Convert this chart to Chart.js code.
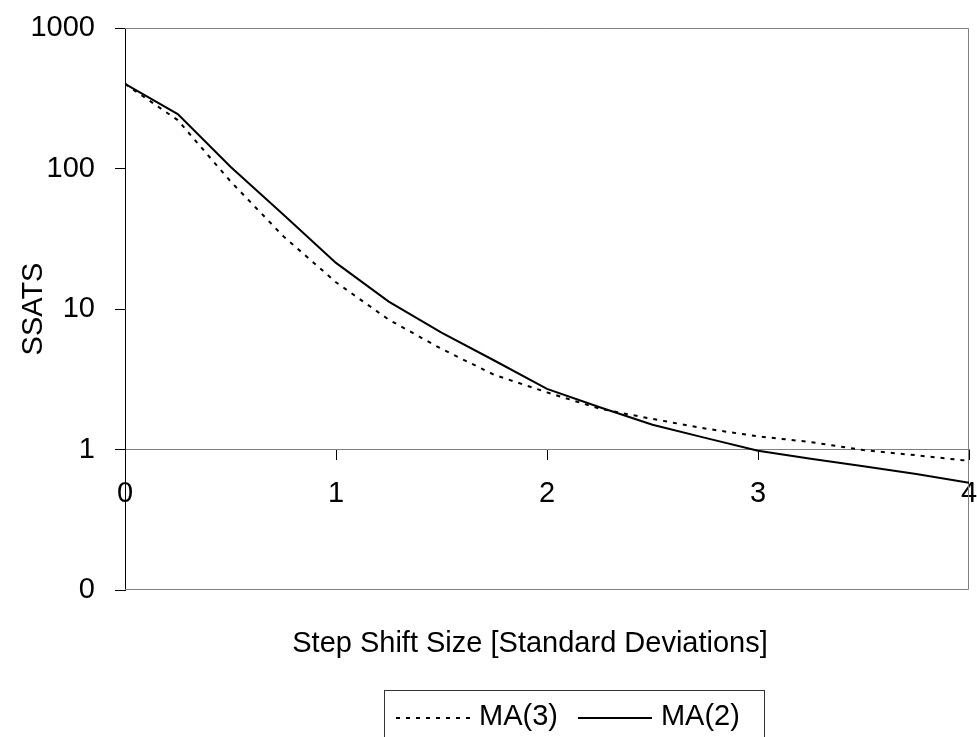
<!DOCTYPE html>
<html>
<head>
<meta charset="utf-8">
<title>SSATS vs step shift size</title>
<script src="https://cdn.jsdelivr.net/npm/chart.js@4/dist/chart.umd.min.js"></script>
<style>
    html, body { margin: 0; padding: 0; background: #fff; }
    #wrap { width: 977px; height: 737px; position: relative; }
</style>
</head>
<body>
<div id="wrap"><canvas id="ssats-chart"></canvas></div>
<script>
// Step shift sizes (standard deviations)
const shiftSizes = [0, 0.25, 0.5, 0.75, 1, 1.25, 1.5, 1.75, 2, 2.25, 2.5, 2.75, 3, 3.25, 3.5, 3.75, 4];

// SSATS per chart type
const ma3Values = [400, 221, 81, 33, 15.5, 8.4, 5.2, 3.4, 2.55, 1.95, 1.65, 1.41, 1.24, 1.13, 0.99, 0.91, 0.83];
const ma2Values = [400, 244, 103, 47, 21.3, 11.3, 6.8, 4.3, 2.7, 2.0, 1.5, 1.21, 0.98, 0.86, 0.76, 0.67, 0.58];

const seriesLabels = ['MA(3)', 'MA(2)'];

// log axis ticks; the bottom one is printed with no decimals, so it reads "0"
const yTickValues = [0.1, 1, 10, 100, 1000];
const yTickLabels = ['0', '1', '10', '100', '1000'];

const xTickLabels = ['0', '1', '2', '3', '4'];

const FONT = '"Liberation Sans", Arial, sans-serif';
Chart.defaults.font.family = FONT;
Chart.defaults.font.size = 29;
Chart.defaults.color = '#000';

function toPoints(values) {
    return values.map((v, i) => ({ x: shiftSizes[i], y: v }));
}

// gray frame around the plot area (left side is the black value axis)
const plotFrame = {
    id: 'plotFrame',
    beforeDatasetsDraw(chart) {
        const { ctx, chartArea: a } = chart;
        ctx.save();
        ctx.strokeStyle = '#808080';
        ctx.lineWidth = 1;
        ctx.beginPath();
        ctx.moveTo(a.left, a.top + 0.5);
        ctx.lineTo(a.right - 0.5, a.top + 0.5);
        ctx.lineTo(a.right - 0.5, a.bottom - 0.5);
        ctx.lineTo(a.left, a.bottom - 0.5);
        ctx.stroke();
        ctx.restore();
    }
};

// x title and boxed legend under the plot
const bottomText = {
    id: 'bottomText',
    afterDraw(chart) {
        const { ctx } = chart;
        ctx.save();
        ctx.font = '29px ' + FONT;
        ctx.fillStyle = '#000';
        ctx.textAlign = 'center';
        ctx.textBaseline = 'alphabetic';
        ctx.fillText('Step Shift Size [Standard Deviations]', 530, 652);

        // legend box runs off the bottom edge
        ctx.strokeStyle = '#333';
        ctx.lineWidth = 1;
        ctx.strokeRect(384.5, 690.5, 380, 60);

        ctx.textAlign = 'left';
        let x = 396;
        chart.data.datasets.forEach(ds => {
            ctx.save();
            ctx.strokeStyle = ds.borderColor;
            ctx.lineWidth = ds.borderWidth;
            ctx.setLineDash(ds.borderDash || []);
            ctx.beginPath();
            ctx.moveTo(x, 718);
            ctx.lineTo(x + 74, 718);
            ctx.stroke();
            ctx.restore();
            ctx.fillText(ds.label, x + 83, 725);
            x += 83 + ctx.measureText(ds.label).width + 20;
        });
        ctx.restore();
    }
};

new Chart(document.getElementById('ssats-chart'), {
    type: 'line',
    data: {
        datasets: [
            {
                label: seriesLabels[0],
                data: toPoints(ma3Values),
                borderColor: '#000',
                borderWidth: 2,
                borderDash: [4, 6],
                pointRadius: 0,
                tension: 0,
                fill: false
            },
            {
                label: seriesLabels[1],
                data: toPoints(ma2Values),
                borderColor: '#000',
                borderWidth: 2,
                pointRadius: 0,
                tension: 0,
                fill: false
            }
        ]
    },
    options: {
        responsive: true,
        maintainAspectRatio: false,
        animation: false,
        layout: { padding: { left: 0, right: 8, top: 28, bottom: 147 } },
        plugins: {
            legend: { display: false },
            tooltip: { enabled: false }
        },
        scales: {
            x: {
                type: 'linear',
                position: { y: 1 },
                min: 0,
                max: 4,
                afterBuildTicks: s => { s.ticks = xTickLabels.map((t, i) => ({ value: i })); },
                // the axis sits inside the plot, so it must not push the plot edges in
                afterFit: s => {
                    s.paddingLeft = 0;
                    s.paddingRight = 0;
                    s.paddingTop = 0;
                    s.paddingBottom = 0;
                },
                ticks: {
                    callback: v => xTickLabels[v],
                    padding: 17,
                    maxRotation: 0,
                    autoSkip: false,
                    color: '#000'
                },
                grid: { drawOnChartArea: false, tickLength: 10, tickColor: '#000' },
                border: { color: '#808080', width: 1 }
            },
            y: {
                type: 'logarithmic',
                min: 0.1,
                max: 1000,
                afterBuildTicks: s => { s.ticks = yTickValues.map(v => ({ value: v })); },
                afterFit: s => {
                    s.width = 125;
                    s.paddingTop = 0;
                    s.paddingBottom = 0;
                },
                ticks: {
                    callback: v => yTickLabels[yTickValues.indexOf(v)],
                    padding: 20,
                    autoSkip: false,
                    color: '#000'
                },
                grid: { drawOnChartArea: false, tickLength: 10, tickColor: '#000' },
                border: { color: '#000', width: 1 },
                title: {
                    display: true,
                    text: 'SSATS',
                    font: { size: 29 },
                    padding: { top: 17, bottom: 0 },
                    color: '#000'
                }
            }
        }
    },
    plugins: [plotFrame, bottomText]
});
</script>
</body>
</html>
